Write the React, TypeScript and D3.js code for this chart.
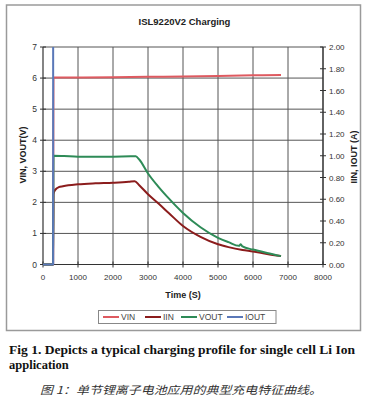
import React from "react";
import * as d3 from "d3";

const title = "ISL9220V2 Charging";
const xTicks = [0, 1000, 2000, 3000, 4000, 5000, 6000, 7000, 8000];
const leftTicks = [0, 1, 2, 3, 4, 5, 6, 7];
const rightTicks = [0, 0.2, 0.4, 0.6, 0.8, 1.0, 1.2, 1.4, 1.6, 1.8, 2.0];

const vinT = [0, 290, 300, 1000, 2000, 3000, 4000, 5000, 6000, 6800];
const vinV = [0, 0, 6.02, 6.02, 6.03, 6.04, 6.05, 6.07, 6.09, 6.1];

const iinT = [0, 290, 300, 320, 380, 450, 570, 1000, 1500, 2000, 2450, 2620, 2750, 3000, 3300, 3600, 4000, 4500, 5000, 5300, 5700, 6000, 6400, 6800];
const iinA = [0, 0, 0.643, 0.671, 0.697, 0.711, 0.72, 0.737, 0.746, 0.751, 0.76, 0.766, 0.729, 0.646, 0.56, 0.471, 0.354, 0.254, 0.186, 0.16, 0.134, 0.12, 0.097, 0.077];

const voutT = [0, 290, 300, 600, 1000, 2000, 2500, 2650, 2750, 3000, 3300, 3600, 4000, 4500, 5000, 5300, 5600, 5650, 5700, 6000, 6400, 6800];
const voutV = [0, 0, 3.5, 3.49, 3.47, 3.47, 3.48, 3.48, 3.38, 2.93, 2.5, 2.12, 1.66, 1.2, 0.86, 0.72, 0.6, 0.65, 0.58, 0.48, 0.37, 0.27];

const ioutT = [0, 290, 290];
const ioutA = [0, 0, 2.0];

const legendNames = ["VIN", "IIN", "VOUT", "IOUT"];
const colors = ["#de5a60", "#8b1c1c", "#2e8b57", "#5a78b8"];

const caption1 = "Fig 1. Depicts a typical charging profile for single cell Li Ion";
const caption2 = "application";
const captionZh = "图 1：单节锂离子电池应用的典型充电特征曲线。";

export default function App() {
  const x = d3.scaleLinear().domain([0, 8000]).range([43, 323]);
  const yL = d3.scaleLinear().domain([0, 7]).range([264.5, 47]);
  const yR = d3.scaleLinear().domain([0, 2]).range([264.5, 47]);

  const mk = (ts: number[], vs: number[], y: d3.ScaleLinear<number, number>, curve: d3.CurveFactory) =>
    d3.line<number>().x((_, i) => x(ts[i])).y((v) => y(v)).curve(curve)(vs) || "";

  const series = [
    mk(vinT, vinV, yL, d3.curveMonotoneX),
    mk(iinT, iinA, yR, d3.curveMonotoneX),
    mk(voutT, voutV, yL, d3.curveMonotoneX),
    mk(ioutT, ioutA, yR, d3.curveLinear),
  ];

  const font = "Arial, 'Liberation Sans', sans-serif";
  const legX = [103, 145, 181, 227];

  return (
    <svg width={368} height={400} style={{ position: "absolute", left: 0, top: 0, background: "#fff" }}>
      <rect x={0} y={0} width={368} height={400} fill="#fff" />
      <rect x={6.5} y={5} width={354} height={325.5} fill="none" stroke="#9a9a9a" strokeWidth={1.5} />
      <text x={184.5} y={25} textAnchor="middle" fontFamily={font} fontWeight="bold" fontSize={9.5} fill="#222">{title}</text>

      {/* grid */}
      {leftTicks.slice(1).map((t) => (
        <line key={"h" + t} x1={x(0)} x2={x(8000)} y1={yL(t)} y2={yL(t)} stroke="#555" strokeWidth={1} />
      ))}
      {xTicks.slice(1).map((t) => (
        <line key={"v" + t} x1={x(t)} x2={x(t)} y1={yL(0)} y2={yL(7)} stroke="#555" strokeWidth={1} />
      ))}
      {/* axes */}
      <line x1={x(0)} x2={x(0)} y1={yL(0)} y2={yL(7)} stroke="#333" strokeWidth={1.2} />
      <line x1={x(0)} x2={x(8000)} y1={yL(0)} y2={yL(0)} stroke="#333" strokeWidth={1.2} />
      <line x1={x(8000)} x2={x(8000)} y1={yL(0)} y2={yL(7)} stroke="#333" strokeWidth={1.2} />
      {leftTicks.map((t) => (
        <g key={"lt" + t}>
          <line x1={x(0) - 3} x2={x(0) + 3} y1={yL(t)} y2={yL(t)} stroke="#333" />
          <text x={37} y={yL(t) + 3} textAnchor="end" fontFamily={font} fontSize={8.5} fill="#333">{t}</text>
        </g>
      ))}
      {rightTicks.map((t) => (
        <g key={"rt" + t}>
          <line x1={x(8000) - 3} x2={x(8000) + 3} y1={yR(t)} y2={yR(t)} stroke="#333" />
          <text x={329} y={yR(t) + 3} textAnchor="start" fontFamily={font} fontSize={8} fill="#333">{t.toFixed(2)}</text>
        </g>
      ))}
      {xTicks.map((t) => (
        <g key={"xt" + t}>
          <line x1={x(t)} x2={x(t)} y1={yL(0) - 3} y2={yL(0) + 3} stroke="#333" />
          <text x={x(t)} y={280} textAnchor="middle" fontFamily={font} fontSize={8} fill="#333">{t}</text>
        </g>
      ))}

      {/* series */}
      {series.map((d, i) => (
        <path key={"s" + i} d={d} fill="none" stroke={colors[i]} strokeWidth={2} strokeLinejoin="round" />
      ))}

      {/* axis titles */}
      <text transform="translate(26,155) rotate(-90)" textAnchor="middle" fontFamily={font} fontWeight="bold" fontSize={9} fill="#222">VIN, VOUT(V)</text>
      <text transform="translate(357,157) rotate(-90)" textAnchor="middle" fontFamily={font} fontWeight="bold" fontSize={9} fill="#222">IIN, IOUT (A)</text>
      <text x={183} y={298} textAnchor="middle" fontFamily={font} fontWeight="bold" fontSize={9} fill="#222">Time (S)</text>

      {/* legend */}
      <rect x={98.5} y={310.5} width={177.5} height={13} fill="#fff" stroke="#888" strokeWidth={1} />
      {legendNames.map((n, i) => (
        <g key={"lg" + n}>
          <line x1={legX[i]} x2={legX[i] + 16} y1={317} y2={317} stroke={colors[i]} strokeWidth={2} />
          <text x={legX[i] + 18} y={320} fontFamily={font} fontSize={8.5} fill="#444">{n}</text>
        </g>
      ))}

      {/* captions */}
      <text x={9} y={354} fontFamily="'Liberation Serif', 'Times New Roman', serif" fontWeight="bold" fontSize={12.5} fill="#111" textLength={346} lengthAdjust="spacingAndGlyphs">{caption1}</text>
      <text x={9} y={369} fontFamily="'Liberation Serif', 'Times New Roman', serif" fontWeight="bold" fontSize={12.5} fill="#111">{caption2}</text>
      <text x={40} y={394} fontFamily="'Noto Sans CJK SC', sans-serif" fontStyle="italic" fontSize={11} fill="#333" textLength={282} lengthAdjust="spacingAndGlyphs">{captionZh}</text>
    </svg>
  );
}
